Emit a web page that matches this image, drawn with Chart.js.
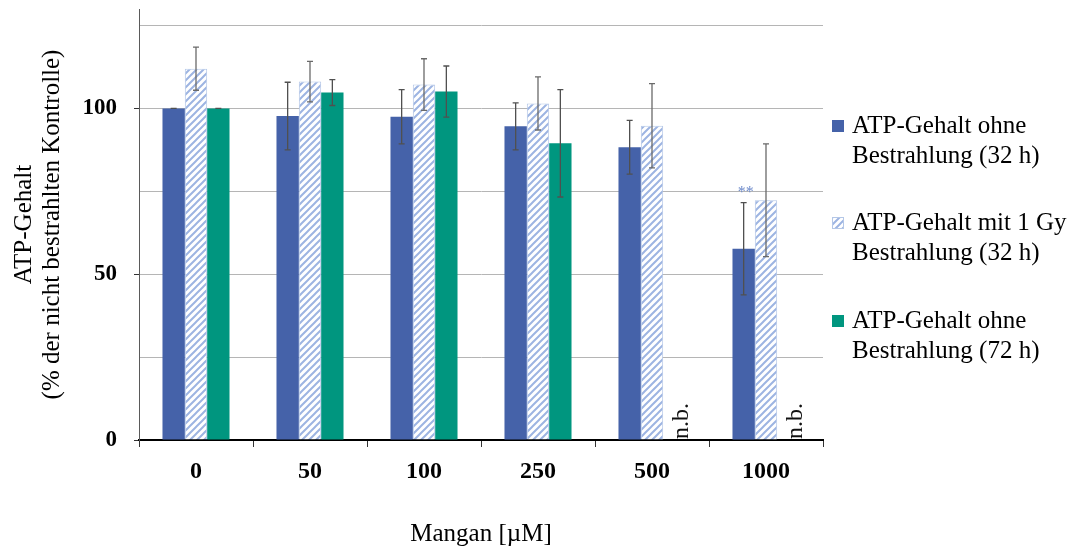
<!DOCTYPE html>
<html><head><meta charset="utf-8">
<script src="https://cdn.jsdelivr.net/npm/chart.js@4.4.0/dist/chart.umd.min.js"></script>
<style>html,body{margin:0;padding:0;background:#fff;overflow:hidden}#wrap{width:1073px;height:549px}</style>
</head><body><div id="wrap"><canvas id="c" width="1073" height="549"></canvas></div>
<script>
const categories = ['0', '50', '100', '250', '500', '1000'];
const seriesNames = [
  ['ATP-Gehalt ohne', 'Bestrahlung (32 h)'],
  ['ATP-Gehalt mit 1 Gy', 'Bestrahlung (32 h)'],
  ['ATP-Gehalt ohne', 'Bestrahlung (72 h)']
];
const ohne32 = [100, 97.7, 97.5, 94.6, 88.3, 57.7];
const ohne32Err = [0, 10.2, 8.2, 7.1, 8.1, 13.9];
const mit1Gy32 = [112.0, 108.1, 107.2, 101.5, 94.8, 72.3];
const mit1Gy32Err = [6.5, 6.1, 7.8, 8.0, 12.7, 17.0];
const ohne72 = [100, 104.8, 105.1, 89.5, null, null];
const ohne72Err = [0, 3.9, 7.7, 16.2, null, null];
const yTicks = [0, 25, 50, 75, 100, 125];
const yLabelStep = 50;
const yMax = 130;
const notDeterminedText = 'n.b.';
const significanceText = '**';
const significanceSeries = 0;
const significanceIndex = 5;
const xTitle = 'Mangan [µM]';
const yTitle = ['ATP-Gehalt', '(% der nicht bestrahlten Kontrolle)'];

const SERIF = '"Liberation Serif", "Times New Roman", serif';
const BLUE = '#4562A9';
const GREEN = '#00967F';
const HATCH_LINE = '#9DB4E2';
const HATCH_BORDER = '#B4C7E7';

function makeHatch() {
  const s = 7;
  const t = document.createElement('canvas');
  t.width = s; t.height = s;
  const g = t.getContext('2d');
  g.fillStyle = '#ffffff'; g.fillRect(0, 0, s, s);
  g.strokeStyle = HATCH_LINE; g.lineWidth = 2;
  g.beginPath();
  g.moveTo(0, s); g.lineTo(s, 0);
  g.moveTo(-1, 1); g.lineTo(1, -1);
  g.moveTo(s - 1, s + 1); g.lineTo(s + 1, s - 1);
  g.stroke();
  return g.createPattern(t, 'repeat');
}
const ctx0 = document.getElementById('c').getContext('2d');
const hatch = makeHatch();

const overlay = {
  id: 'overlay',
  afterDatasetsDraw(chart) {
    const ctx = chart.ctx, ys = chart.scales.y;
    const errs = [ohne32Err, mit1Gy32Err, ohne72Err];
    const errColors = ['#505050', '#6a6a6a', '#505050'];
    ctx.save();
    chart.data.datasets.forEach((ds, di) => {
      const meta = chart.getDatasetMeta(di);
      ds.data.forEach((v, i) => {
        if (v == null) return;
        const e = errs[di][i];
        const x = meta.data[i].x;
        const yt = ys.getPixelForValue(v + e), yb = ys.getPixelForValue(v - e);
        ctx.strokeStyle = errColors[di]; ctx.lineWidth = 1.3;
        ctx.beginPath();
        ctx.moveTo(x, yt); ctx.lineTo(x, yb);
        ctx.moveTo(x - 3, yt); ctx.lineTo(x + 3, yt);
        ctx.moveTo(x - 3, yb); ctx.lineTo(x + 3, yb);
        ctx.stroke();
      });
    });
    const m0 = chart.getDatasetMeta(0), m1 = chart.getDatasetMeta(1);
    ctx.fillStyle = '#111';
    ctx.font = '24px ' + SERIF;
    ohne72.forEach((v, i) => {
      if (v != null) return;
      const gx = m1.data[i].x + (m1.data[i].x - m0.data[i].x);
      ctx.save();
      ctx.translate(gx + 14, ys.getPixelForValue(0) - 1);
      ctx.rotate(-Math.PI / 2);
      ctx.textAlign = 'left'; ctx.textBaseline = 'alphabetic';
      ctx.fillText(notDeterminedText, 0, 0);
      ctx.restore();
    });
    const ms = chart.getDatasetMeta(significanceSeries).data[significanceIndex];
    const top = ys.getPixelForValue(ohne32[significanceIndex] + ohne32Err[significanceIndex]);
    ctx.fillStyle = '#6F8BCB';
    ctx.font = '16px ' + SERIF;
    ctx.textAlign = 'center'; ctx.textBaseline = 'alphabetic';
    ctx.fillText(significanceText, ms.x + 2, top - 6);
    ctx.restore();
  },
  afterDraw(chart) {
    const ctx = chart.ctx;
    const fills = [BLUE, hatch, GREEN];
    const tops = [120, 217, 315];
    ctx.save();
    ctx.font = '25px ' + SERIF;
    ctx.textAlign = 'left'; ctx.textBaseline = 'alphabetic';
    seriesNames.forEach((lines, k) => {
      const t = tops[k];
      ctx.fillStyle = fills[k];
      ctx.fillRect(832, t, 12, 12);
      if (k === 1) {
        ctx.strokeStyle = HATCH_BORDER; ctx.lineWidth = 1;
        ctx.strokeRect(832.5, t + 0.5, 11, 11);
      }
      ctx.fillStyle = '#000';
      ctx.fillText(lines[0], 852, t + 13);
      ctx.fillText(lines[1], 852, t + 43);
    });
    ctx.restore();
  }
};

new Chart(ctx0, {
  type: 'bar',
  data: {
    labels: categories,
    datasets: [
      { label: seriesNames[0].join(' '), data: ohne32, backgroundColor: BLUE, borderWidth: 0 },
      { label: seriesNames[1].join(' '), data: mit1Gy32, backgroundColor: hatch, borderColor: HATCH_BORDER, borderWidth: 1 },
      { label: seriesNames[2].join(' '), data: ohne72, backgroundColor: GREEN, borderWidth: 0 }
    ]
  },
  options: {
    responsive: false,
    animation: false,
    devicePixelRatio: 1,
    layout: { padding: { left: 0, right: 250, top: 9, bottom: 0 } },
    datasets: { bar: { categoryPercentage: 0.588, barPercentage: 1.0 } },
    plugins: { legend: { display: false }, tooltip: { enabled: false } },
    scales: {
      x: {
        offset: true,
        afterFit(s) { s.height = 109; s.paddingLeft = 0; s.paddingRight = 0; },
        grid: { offset: true, drawOnChartArea: false, drawTicks: true, tickLength: 7, tickColor: '#333', lineWidth: 1 },
        border: { display: true, color: '#000', width: 2 },
        ticks: { font: { family: SERIF, size: 24, weight: 'bold' }, color: '#000', padding: 10, maxRotation: 0 },
        title: { display: true, text: xTitle, font: { family: SERIF, size: 25 }, color: '#000', padding: { top: 0, bottom: 0 } }
      },
      y: {
        min: 0, max: yMax,
        afterFit(s) { s.width = 139; s.paddingTop = 0; s.paddingBottom = 0; },
        afterBuildTicks(s) { s.ticks = yTicks.map(v => ({ value: v })); },
        grid: {
          color: c => (c.tick && c.tick.value === 0) ? 'rgba(0,0,0,0)' : '#B5B5B5',
          tickColor: c => (c.tick && c.tick.value % yLabelStep === 0) ? '#333' : 'rgba(0,0,0,0)',
          tickLength: 5, lineWidth: 1
        },
        border: { display: true, color: '#5a5a5a', width: 1 },
        ticks: {
          font: { family: SERIF, size: 23, weight: 'bold' }, color: '#000', padding: 17,
          callback: v => (v % yLabelStep === 0 ? String(v) : '')
        },
        title: { display: true, text: yTitle, font: { family: SERIF, size: 25, lineHeight: 1.12 }, color: '#000', padding: { top: 10, bottom: 0 } }
      }
    }
  },
  plugins: [overlay]
});
</script></body></html>
